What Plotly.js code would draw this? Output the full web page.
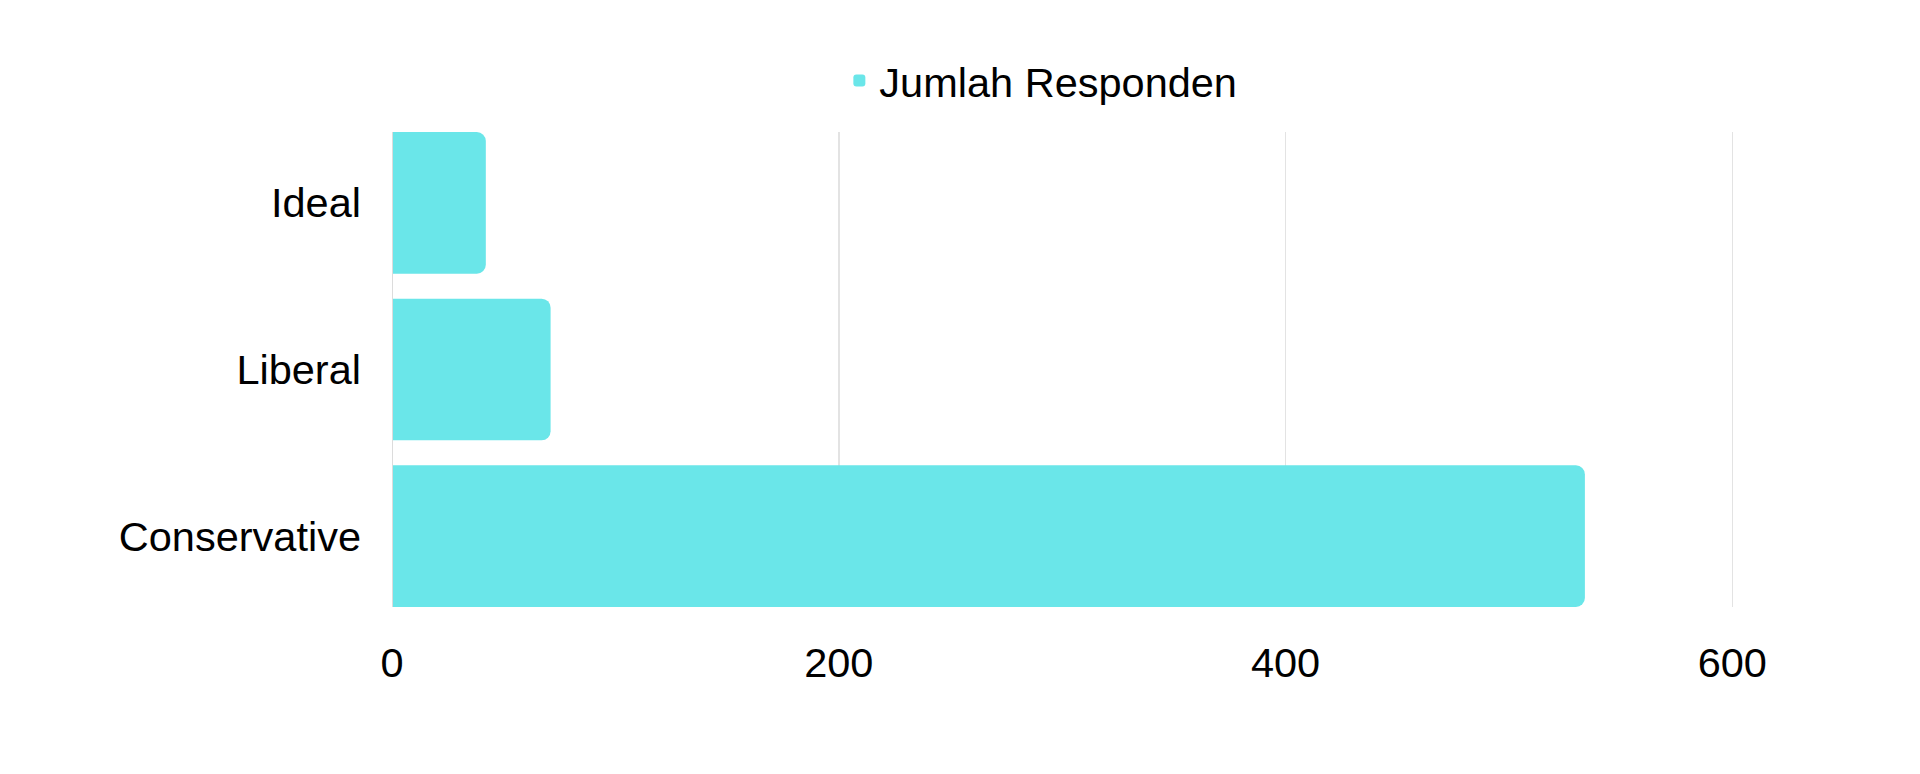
<!DOCTYPE html>
<html>
<head>
<meta charset="utf-8">
<script src="https://cdn.plot.ly/plotly-3.0.1.min.js"></script>
<style>html,body{margin:0;padding:0;background:#fff;}#chart{width:1920px;height:774px;}</style>
</head>
<body>
<div id="chart"></div>
<script>
const categories = ["Ideal", "Liberal", "Conservative"];
const values = [42, 71, 534];
const seriesName = "Jumlah Responden";
const xTicks = [0, 200, 400, 600];

const trace = {
  type: 'bar',
  orientation: 'h',
  y: categories,
  x: values,
  name: seriesName,
  showlegend: true,
  marker: {color: '#6AE6E9', cornerradius: 9},
  hoverinfo: 'x+y'
};

const layout = {
  width: 1920, height: 774,
  paper_bgcolor: '#fff', plot_bgcolor: '#fff',
  margin: {l: 392, r: 143, t: 132, b: 167, pad: 0},
  font: {family: 'Liberation Sans, Arial, sans-serif', size: 41.5, color: '#000'},
  bargap: 0.15,
  showlegend: true,
  legend: {
    orientation: 'h', x: 0.323, xanchor: 'left', y: 1.038, yanchor: 'bottom',
    font: {size: 41.5, color: '#000'}, bgcolor: 'rgba(0,0,0,0)', borderwidth: 0
  },
  xaxis: {
    range: [0, 620], tickvals: xTicks, ticktext: xTicks.map(String),
    showgrid: true, gridcolor: '#e3e3e3', gridwidth: 1.5,
    zeroline: false, showline: false, ticks: '', ticklabelstandoff: 27,
    tickfont: {size: 41.5, color: '#000'}
  },
  yaxis: {
    type: 'category', categoryorder: 'array', categoryarray: categories,
    range: [2.425, -0.425], showgrid: false, zeroline: false,
    showline: false, ticks: '', ticklabelstandoff: 30,
    tickfont: {size: 41.5, color: '#000'}
  },
  shapes: [{type: 'line', xref: 'x', yref: 'paper', x0: 0, x1: 0, y0: 0, y1: 1,
    line: {color: '#dcdcdc', width: 2}}]
};

Plotly.newPlot('chart', [trace], layout, {displayModeBar: false, staticPlot: true});
</script>
</body>
</html>
